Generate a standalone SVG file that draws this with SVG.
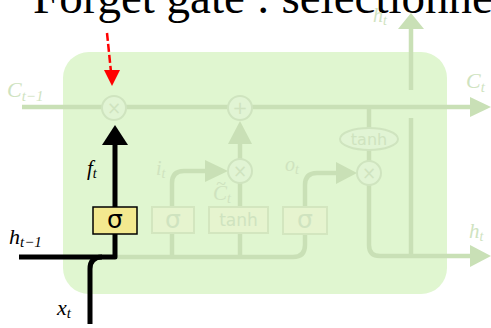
<svg xmlns="http://www.w3.org/2000/svg" width="491" height="328" viewBox="0 0 491 328">
<style>
.fl{fill:none;stroke:#c9e0b6;stroke-width:4.5;stroke-linecap:butt}
.fa{fill:#c9e0b6;stroke:none}
.fc{fill:#e1f4d4;stroke:#cfe4bf;stroke-width:2}
.fb{fill:#e6f4cf;stroke:#d3e6bf;stroke-width:2}
.ft{font-family:"Liberation Serif",serif;font-style:italic;fill:#cfe3bf}
.fs{font-family:"DejaVu Sans",sans-serif;fill:#cfe3bf;text-anchor:middle}
.bl{fill:none;stroke:#000;stroke-width:5;stroke-linejoin:round}
.bt{font-family:"Liberation Serif",serif;font-style:italic;fill:#000}
</style>
<rect width="491" height="328" fill="#fff"/>
<text x="33" y="13" font-family="Liberation Serif, serif" font-size="47" fill="#000">Forget gate : selectionne</text>

<g id="cell">
<rect x="63" y="52" width="384" height="242" rx="26" fill="#e0f6d0"/>
</g>

<g id="connectors">
<!-- cell state line -->
<path class="fl" d="M22,107 H471"/>
<polygon class="fa" points="470,97 491,107 470,117"/>
<!-- bottom bus -->
<path class="fl" d="M115,257 H293 Q305,257 305,245 V234"/>
<!-- input gate -->
<path class="fl" d="M172,257 V233 M172,207 V183 Q172,171 184,171 H207"/>
<polygon class="fa" points="205,160 228,171 205,182"/>
<!-- candidate -->
<path class="fl" d="M240,257 V233 M240,207 V183 M240,159 V143"/>
<polygon class="fa" points="228,144 240,121 252,144"/>
<!-- output gate -->
<path class="fl" d="M305,207 V185 Q305,173 317,173 H338"/>
<polygon class="fa" points="336,162 357,173 336,184"/>
<!-- output path -->
<path class="fl" d="M369,107 V128 M369,150 V161 M369,185 V245 Q369,256 380,256 H471"/>
<polygon class="fa" points="470,245 491,256 470,267"/>
<!-- h_t up -->
<path class="fl" d="M411,256 V118 M411,90 V27"/>
<polygon class="fa" points="398,29 411,13 424,29"/>
<!-- highlighted forget path -->
<path class="bl" d="M19,257 H115 V232"/>
<path class="bl" d="M90,324 V269 Q90,257 102,257"/>
<path class="bl" d="M115,207 V143"/>
<polygon points="102,145 115,125 128,145" fill="#000"/>
<!-- red dashed pointer -->
<path d="M107,33 L111,72" fill="none" stroke="#ff0000" stroke-width="2.5" stroke-dasharray="8,3"/>
<polygon points="104,70 112,86 120,70" fill="#ff0000"/>
</g>

<g id="forget-mult">
<circle class="fc" cx="114" cy="108" r="12"/>
<text class="fs" x="114" y="114" font-size="17">×</text>
</g>
<g id="add">
<circle class="fc" cx="240" cy="108" r="12"/>
<text class="fs" x="240" y="114" font-size="18">+</text>
</g>
<g id="input-mult">
<circle class="fc" cx="240" cy="171" r="12"/>
<text class="fs" x="240" y="177" font-size="17">×</text>
</g>
<g id="output-mult">
<circle class="fc" cx="369" cy="173" r="12"/>
<text class="fs" x="369" y="179" font-size="17">×</text>
</g>
<g id="tanh-out">
<ellipse class="fc" cx="369" cy="139" rx="29" ry="11"/>
<text class="fs" x="369" y="145" font-size="16">tanh</text>
</g>
<g id="sigma-forget">
<rect x="93" y="207" width="44" height="27" fill="#f3e98f" stroke="#000" stroke-width="1.5"/>
<text x="115" y="228" font-family="DejaVu Sans, sans-serif" font-size="25" text-anchor="middle" fill="#000">σ</text>
</g>
<g id="sigma-input">
<rect class="fb" x="152" y="207" width="42" height="26"/>
<text class="fs" x="173" y="228" font-size="25">σ</text>
</g>
<g id="tanh-cand">
<rect class="fb" x="209" y="207" width="59" height="26"/>
<text class="fs" x="238.5" y="226" font-size="17">tanh</text>
</g>
<g id="sigma-output">
<rect class="fb" x="283" y="207" width="44" height="27"/>
<text class="fs" x="305" y="228" font-size="25">σ</text>
</g>

<g id="labels">
<text class="ft" x="7" y="97" font-size="22">C<tspan font-size="15" dy="4">t−1</tspan></text>
<text class="ft" x="466" y="88" font-size="22">C<tspan font-size="15" dy="4">t</tspan></text>
<text class="ft" x="373" y="22" font-size="20">h<tspan font-size="14" dy="3">t</tspan></text>
<text class="ft" x="469" y="238" font-size="21">h<tspan font-size="14" dy="3">t</tspan></text>
<text class="ft" x="156" y="175" font-size="20">i<tspan font-size="14" dy="3">t</tspan></text>
<text class="ft" x="213" y="200" font-size="21">C<tspan font-size="14" dy="3">t</tspan></text>
<text class="ft" x="216" y="190" font-size="18">~</text>
<text class="ft" x="285" y="171" font-size="20">o<tspan font-size="14" dy="3">t</tspan></text>
<text class="bt" x="87" y="175" font-size="21">f<tspan font-size="14" dy="3">t</tspan></text>
<text class="bt" x="9" y="244" font-size="22">h<tspan font-size="15" dy="3">t−1</tspan></text>
<text class="bt" x="57" y="315" font-size="22">x<tspan font-size="15" dy="3">t</tspan></text>
</g>
</svg>
